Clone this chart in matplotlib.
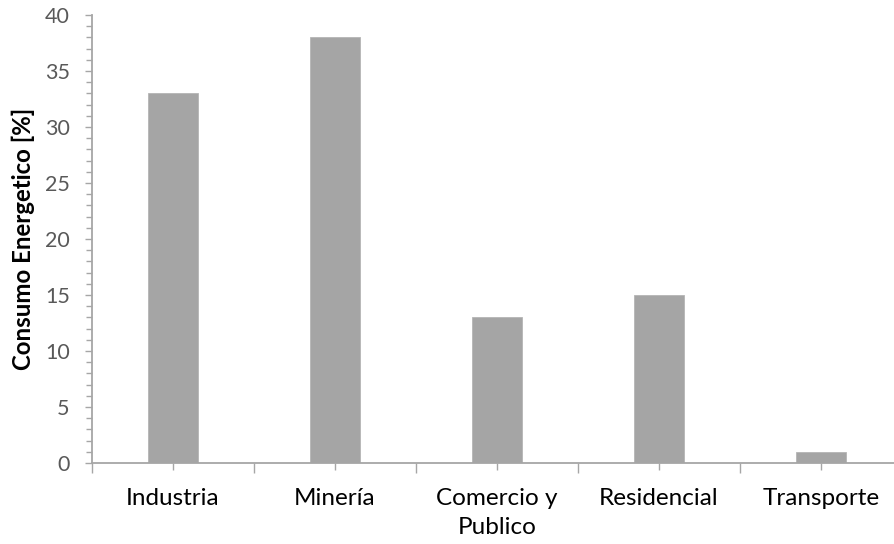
import matplotlib
matplotlib.use("Agg")
import matplotlib.pyplot as plt
from matplotlib.ticker import MultipleLocator, FixedLocator

categories = ["Industria", "Minería", "Comercio y\nPublico", "Residencial", "Transporte"]
consumo = [33, 38, 13, 15, 1]
y_ticks = [0, 5, 10, 15, 20, 25, 30, 35, 40]

plt.rcParams["font.family"] = ["Lato", "DejaVu Sans"]

fig = plt.figure(figsize=(8.94, 5.44), dpi=100)
ax = fig.add_axes([92 / 894, 81 / 544, 810 / 894, 448 / 544])

x = list(range(len(categories)))
ax.bar(x, consumo, width=0.31, color="#A5A5A5", edgecolor="#B5B5B5", linewidth=0.6, zorder=2)

ax.set_xlim(-0.5, len(categories) - 0.5)
ax.set_ylim(0, 40)

axis_color = "#A6A6A6"
for side in ("top", "right"):
    ax.spines[side].set_visible(False)
for side in ("left", "bottom"):
    ax.spines[side].set_color(axis_color)
    ax.spines[side].set_linewidth(1.3)

# y axis: major every 5, minor every 1
ax.set_yticks(y_ticks)
ax.yaxis.set_minor_locator(MultipleLocator(1))
ax.tick_params(axis="y", which="major", direction="out", length=5, width=1,
               color=axis_color, labelsize=15.5, labelcolor="#595959", pad=11)
ax.tick_params(axis="y", which="minor", direction="out", length=4, width=1, color=axis_color)

# x axis: labels at category centres, longer ticks at boundaries
ax.set_xticks(x)
ax.set_xticklabels(categories, linespacing=1.5)
ax.xaxis.set_minor_locator(FixedLocator([i - 0.5 for i in range(len(categories) + 1)]))
ax.tick_params(axis="x", which="major", direction="out", length=5, width=1,
               color=axis_color, labelsize=17.5, labelcolor="#000000", pad=13)
ax.tick_params(axis="x", which="minor", direction="out", length=7, width=1, color=axis_color)

ax.set_ylabel("Consumo Energetico [%]", fontsize=17.3, fontweight="bold", color="#000000")
ax.yaxis.set_label_coords(-57 / 810, 0.5)

fig.savefig("out.png", dpi=100)
